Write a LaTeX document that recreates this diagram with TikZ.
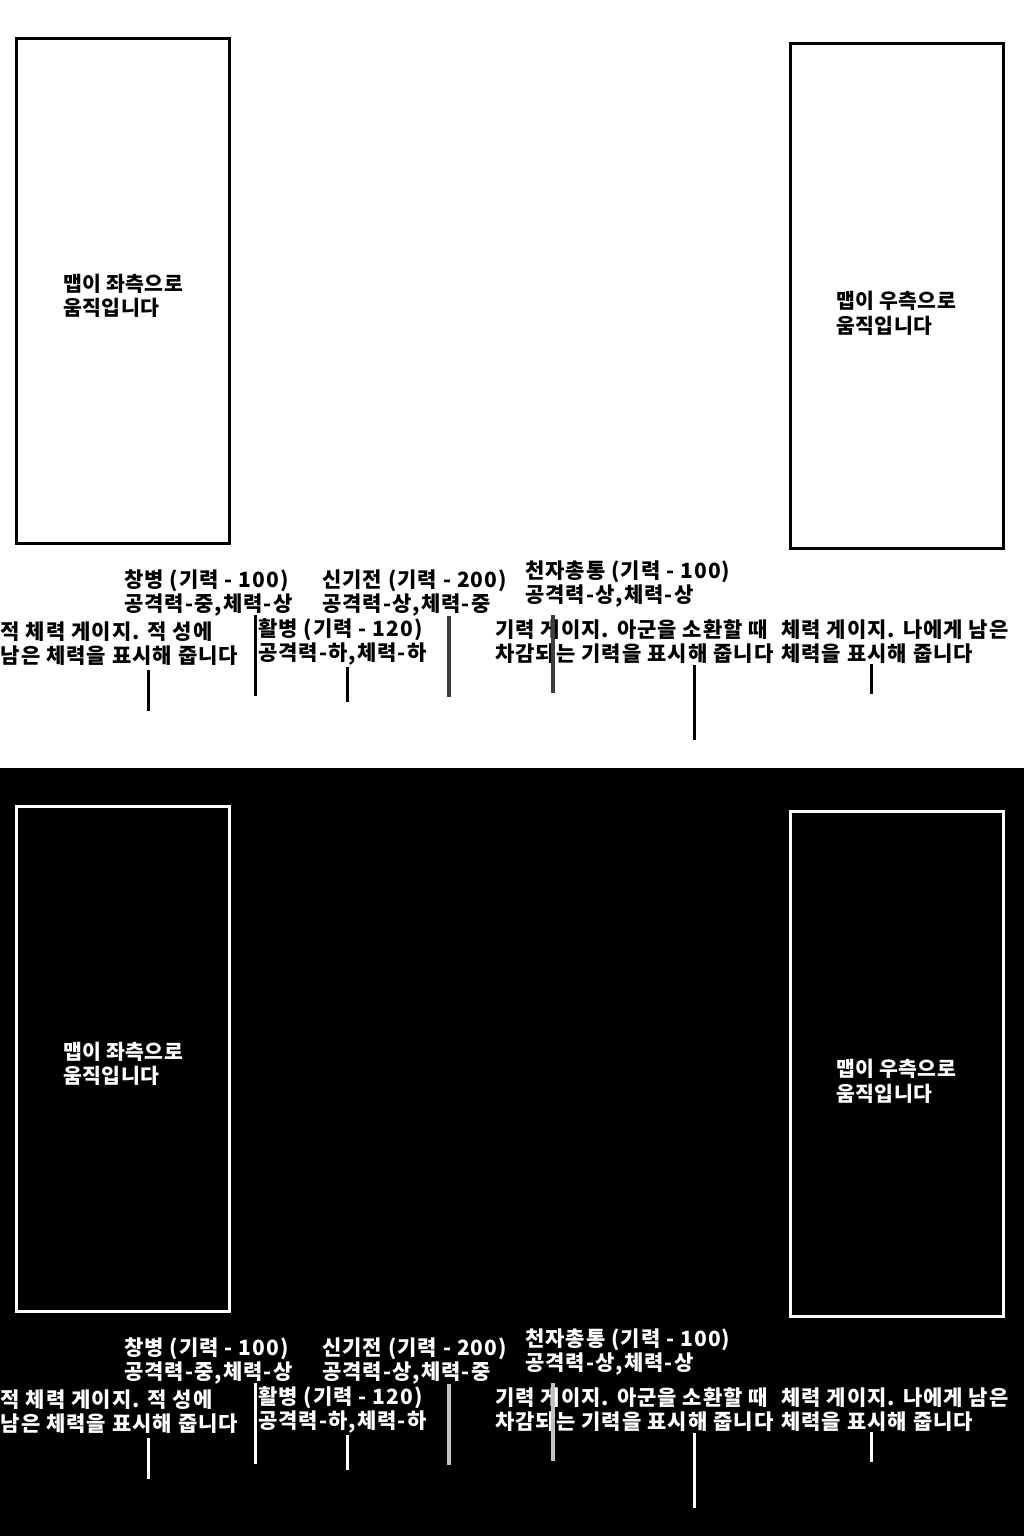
\documentclass[tikz,border=0pt]{standalone}
\usepackage{fontspec}
\newfontfamily\krlbl{Noto Sans CJK KR}[LetterSpace=5]
\newfontfamily\krbox{Noto Sans CJK KR}[LetterSpace=2]
\colorlet{fg}{black}
\colorlet{gr}{black}
\tikzset{
  lbl/.style={anchor=west, inner sep=0pt, align=left, text=fg,
    font=\krlbl\bfseries\fontsize{21}{24}\selectfont},
  boxtxt/.style={anchor=west, inner sep=0pt, align=left, text=fg,
    font=\krbox\bfseries\fontsize{20.5}{24.5}\selectfont},
  frame/.style={draw=fg, line width=3pt, inner sep=0pt, minimum width=213pt, minimum height=505pt},
  tick/.style={draw=fg, line width=3pt},
  gtick/.style={draw=gr, line width=3.6pt},
}
\newcommand\panelcontent{%
  \node[frame] (lbox) at (123,291) {};
  \node[frame] (rbox) at (897,296) {};
  \node[boxtxt] (ltxt) at (63,296) {맵이 좌측으로\\움직입니다};
  \node[boxtxt] (rtxt) at (836,313.5) {맵이 우측으로\\움직입니다};
  \node[lbl] (chang) at (124,593) {창병 (기력 - 100)\\공격력-중,체력-상};
  \node[lbl] (singi) at (322,593) {신기전 (기력 - 200)\\공격력-상,체력-중};
  \node[lbl] (cheon) at (525,584.5) {천자총통 (기력 - 100)\\공격력-상,체력-상};
  \node[lbl] (enemy) at (0.5,644) {적 체력 게이지. 적 성에\\남은 체력을 표시해 줍니다};
  \node[lbl] (hwal) at (258,642) {활병 (기력 - 120)\\공격력-하,체력-하};
  \node[lbl] (gauge) at (495,642) {기력 게이지. 아군을 소환할 때\\차감되는 기력을 표시해 줍니다};
  \node[lbl] (hp) at (781,642) {체력 게이지. 나에게 남은\\체력을 표시해 줍니다};
  \coordinate (t1a) at (148,670); \coordinate (t1b) at (148,711);
  \coordinate (t2a) at (255,615); \coordinate (t2b) at (255,696);
  \coordinate (t3a) at (347,667); \coordinate (t3b) at (347,702);
  \coordinate (t4a) at (448.7,616); \coordinate (t4b) at (448.7,697);
  \coordinate (t5a) at (553,615); \coordinate (t5b) at (553,693);
  \coordinate (t6a) at (694,665); \coordinate (t6b) at (694,740);
  \coordinate (t7a) at (871,664); \coordinate (t7b) at (871,694);
  \draw[tick] (t1a) -- (t1b);
  \draw[tick] (t2a) -- (t2b);
  \draw[tick] (t3a) -- (t3b);
  \draw[gtick] (t4a) -- (t4b);
  \draw[gtick] (t5a) -- (t5b);
  \draw[tick] (t6a) -- (t6b);
  \draw[tick] (t7a) -- (t7b);
}
\begin{document}
\begin{tikzpicture}[x=1pt,y=-1pt]
  \useasboundingbox (0,0) rectangle (1024,1536);
  \fill[white] (0,0) rectangle (1024,768);
  \fill[black] (0,768) rectangle (1024,1536);
  \begin{scope}[name prefix=top-]
    \colorlet{fg}{black}\colorlet{gr}{black!76}
    \panelcontent
  \end{scope}
  \begin{scope}[shift={(0,768)}, name prefix=bot-]
    \colorlet{fg}{white}\colorlet{gr}{white!76!black}
    \panelcontent
  \end{scope}
\end{tikzpicture}
\end{document}
